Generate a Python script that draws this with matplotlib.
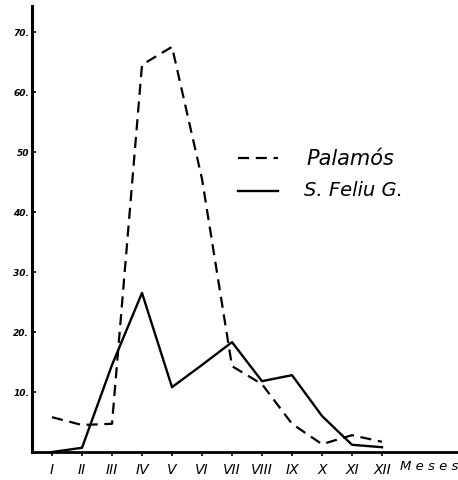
import numpy as np
import matplotlib
matplotlib.use("Agg")
import matplotlib.pyplot as plt

# months (roman numerals) and monthly values
meses = ["I", "II", "III", "IV", "V", "VI", "VII", "VIII", "IX", "X", "XI", "XII"]
palamos = [5.8, 4.5, 4.7, 64.5, 67.5, 45.5, 14.3, 11.3, 4.7, 1.3, 2.8, 1.7]
sfeliu = [0.0, 0.7, 14.5, 26.5, 10.8, 14.5, 18.3, 11.8, 12.8, 6.0, 1.2, 0.8]

yticks = [10, 20, 30, 40, 50, 60, 70]
ylabels = ["10.", "20.", "30.", "40.", "50", "60.", "70."]

x = np.arange(1, len(meses) + 1)

fig = plt.figure(figsize=(4.58, 4.81), dpi=100)
ax = fig.add_axes([32/458, 28/481, 425/458, 446/481])

ax.plot(x, palamos, color="black", lw=1.6, ls=(0, (5, 3)))
ax.plot(x, sfeliu, color="black", lw=1.7)

ax.set_xlim(1 - 20/30, 1 + 405/30)
ax.set_ylim(0, 74.3)

for s in ["top", "right"]:
    ax.spines[s].set_visible(False)
ax.spines["left"].set_linewidth(2.2)
ax.spines["bottom"].set_linewidth(2.0)

ax.set_xticks(x)
ax.set_xticklabels(meses, fontstyle="italic", fontsize=10)
ax.set_yticks(yticks)
ax.set_yticklabels(ylabels, fontstyle="italic", fontsize=6.5, fontweight="bold")
ax.tick_params(axis="x", direction="out", length=3, width=1.2, pad=4)
ax.tick_params(axis="y", direction="in", length=3, width=1.2, pad=2)

fig.text(400/458, 1 - 467/481, "M e s e s", fontstyle="italic", fontsize=9.5,
         ha="left", va="center")

# hand drawn legend
fig.lines.append(plt.Line2D([238/458, 278/458], [1 - 159/481, 1 - 159/481],
                            transform=fig.transFigure, color="black", lw=1.6,
                            ls=(0, (5, 3))))
fig.lines.append(plt.Line2D([238/458, 278/458], [1 - 192/481, 1 - 192/481],
                            transform=fig.transFigure, color="black", lw=1.7))
fig.text(306/458, 1 - 159/481, "Palamós", fontstyle="italic", fontsize=15,
         va="center", ha="left")
fig.text(304/458, 1 - 190/481, "S. Feliu G.", fontstyle="italic", fontsize=14,
         va="center", ha="left")

fig.savefig("out.png", dpi=100, facecolor="white")
